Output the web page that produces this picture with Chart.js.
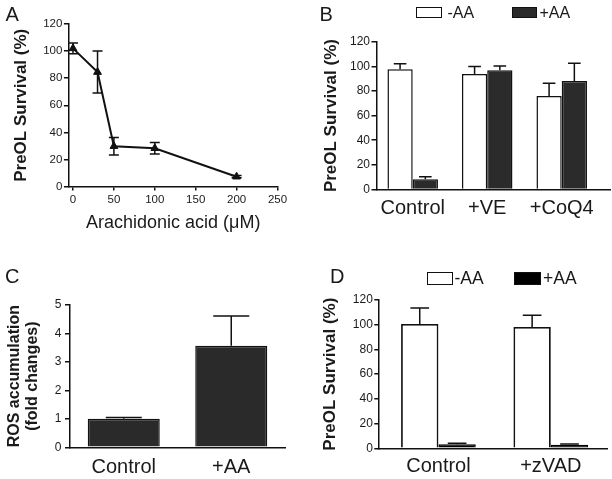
<!DOCTYPE html>
<html><head><meta charset="utf-8">
<script src="https://cdn.jsdelivr.net/npm/chart.js@4.4.1/dist/chart.umd.min.js"></script>
<style>
body{margin:0;background:#fff;}
#wrap{position:relative;width:612px;height:479px;overflow:hidden;background:#fff;font-family:'Liberation Sans',Arial,Helvetica,sans-serif;color:#1a1a1a;}
canvas{position:absolute;}
.lbl{position:absolute;white-space:nowrap;}
.box{position:absolute;box-sizing:border-box;border:1.5px solid #111;}
</style></head><body>
<div id="wrap">
<canvas id="cA" width="300" height="240" style="left:0;top:0"></canvas>
<canvas id="cB" width="312" height="230" style="left:300px;top:0"></canvas>
<canvas id="cC" width="300" height="239" style="left:0;top:240px"></canvas>
<canvas id="cD" width="312" height="249" style="left:300px;top:230px"></canvas>
</div>
<script>
// ---------- data ----------
// Panel A
const concA = [0, 30, 50, 100, 200];
const survA = [102, 84.5, 29.8, 28.3, 7.3];
const errA  = [4, 15.5, 6.5, 4.3, 0.8];
const xTicksA = [0, 50, 100, 150, 200, 250];
const yTicksPct = [0, 20, 40, 60, 80, 100, 120];
// Panel B
const catsB = ['Control', '+VE', '+CoQ4'];
const seriesB = ['-AA', '+AA'];
const minusAA_B = [97.6, 93.8, 76];
const minusAA_B_err = [4.4, 6, 10.2];
const plusAA_B = [8.4, 96.8, 88.1];
const plusAA_B_err = [2, 3.5, 14.4];
// Panel C
const catsC = ['Control', '+AA'];
const rosC = [1.0, 3.57];
const rosC_err = [0.05, 1.04];
const yTicksC = [0, 1, 2, 3, 4, 5];
// Panel D
const catsD = ['Control', '+zVAD'];
const seriesD = ['-AA', '+AA'];
const minusAA_D = [100.6, 98.1];
const minusAA_D_err = [12.9, 9.5];
const plusAA_D = [3.3, 2.8];
const plusAA_D_err = [0.8, 0.6];
// Panel letters
const panelLetters = ['A', 'B', 'C', 'D'];

// ---------- helpers ----------
const FAM = "'Liberation Sans', Arial, Helvetica, sans-serif";
Chart.defaults.font.family = FAM;
Chart.defaults.color = '#1a1a1a';
Chart.defaults.animation = false;
Chart.defaults.plugins.legend.display = false;
Chart.defaults.plugins.tooltip.enabled = false;

const INK = '#111';
const setTicks = arr => s => { s.ticks = arr.map(v => ({value: v})); };
const axisGrid = (len, show) => ({display: show, drawOnChartArea: false, drawTicks: show, tickLength: len, color: INK, lineWidth: 1.5});
const axisBorder = {display: true, color: INK, width: 1.5};

const errorBars = {
  id: 'errorBars',
  afterDatasetsDraw(chart) {
    const ctx = chart.ctx, yS = chart.scales.y;
    chart.data.datasets.forEach((ds, di) => {
      if (!ds.errors) return;
      const meta = chart.getDatasetMeta(di);
      ctx.save();
      ctx.strokeStyle = INK;
      ctx.lineWidth = 1.5;
      meta.data.forEach((el, i) => {
        const d = ds.data[i];
        const v = (typeof d === 'object') ? d.y : d;
        const e = ds.errors[i];
        const x = el.x;
        const hw = ds.capHalf != null ? ds.capHalf : el.width * 0.25;
        const yTop = yS.getPixelForValue(v + e);
        const yBase = ds.errorBoth ? yS.getPixelForValue(v - e) : yS.getPixelForValue(v);
        ctx.beginPath();
        ctx.moveTo(x, yBase); ctx.lineTo(x, yTop);
        ctx.moveTo(x - hw, yTop); ctx.lineTo(x + hw, yTop);
        if (ds.errorBoth) { ctx.moveTo(x - hw, yBase); ctx.lineTo(x + hw, yBase); }
        ctx.stroke();
      });
      ctx.restore();
    });
  }
};

// ---------- Panel A ----------
new Chart(document.getElementById('cA'), {
  type: 'line',
  data: { datasets: [{
    data: concA.map((x, i) => ({x: x, y: survA[i]})),
    errors: errA, errorBoth: true, capHalf: 5,
    borderColor: INK, borderWidth: 2, tension: 0, fill: false,
    pointStyle: 'triangle', pointRadius: 4.5, pointBackgroundColor: INK, pointBorderColor: INK, pointBorderWidth: 1
  }]},
  options: {
    responsive: false,
    layout: {padding: {left: 0, top: 24, right: 22.5, bottom: 8}},
    scales: {
      x: {type: 'linear', min: -5, max: 250, offset: false,
          afterBuildTicks: setTicks(xTicksA), afterFit: s => { s.height = 45.4; },
          grid: axisGrid(4, true), border: axisBorder,
          ticks: {font: {size: 11.5}, padding: 2, maxRotation: 0, autoSkip: false},
          title: {display: true, text: 'Arachidonic acid (\u03bcM)', font: {size: 18, lineHeight: 1}, padding: {top: 0, bottom: 0}}},
      y: {min: 0, max: 120,
          afterBuildTicks: setTicks(yTicksPct), afterFit: s => { s.width = 68.9; },
          grid: axisGrid(5, true), border: axisBorder,
          ticks: {font: {size: 11.5}, padding: 1.5},
          title: {display: true, text: 'PreOL Survival (%)', font: {size: 17, weight: 'bold', lineHeight: 1}, padding: {top: 13, bottom: 0}}}
    }
  },
  plugins: [errorBars]
});

// ---------- Panel B ----------
new Chart(document.getElementById('cB'), {
  type: 'bar',
  data: { datasets: [
    {label: seriesB[0], data: minusAA_B.map((v, i) => ({x: i + 1, y: v})), errors: minusAA_B_err,
     backgroundColor: '#ffffff', borderColor: INK, borderWidth: 1.5, categoryPercentage: 0.678, barPercentage: 1},
    {label: seriesB[1], data: plusAA_B.map((v, i) => ({x: i + 1, y: v})), errors: plusAA_B_err,
     backgroundColor: '#2b2b2b', borderColor: INK, borderWidth: 1.5, categoryPercentage: 0.678, barPercentage: 1}
  ]},
  options: {
    responsive: false,
    layout: {padding: {left: 0, top: 41.7, right: 2, bottom: 0}},
    scales: {
      x: {type: 'linear', min: 0.514, max: 3.648, offset: false,
          afterBuildTicks: setTicks(catsB.map((c, i) => i + 1)), afterFit: s => { s.height = 40.5; },
          grid: {display: false, drawTicks: false, offset: false}, border: axisBorder,
          ticks: {font: {size: 20}, padding: 7.2, maxRotation: 0, autoSkip: false,
                  callback: v => catsB[Math.round(v) - 1]}},
      y: {min: 0, max: 120,
          afterBuildTicks: setTicks(yTicksPct), afterFit: s => { s.width = 76.5; },
          grid: axisGrid(5, true), border: axisBorder,
          ticks: {font: {size: 12}, padding: 1.5},
          title: {display: true, text: 'PreOL Survival (%)', font: {size: 17, weight: 'bold', lineHeight: 1}, padding: {top: 23.2, bottom: 0}}}
    }
  },
  plugins: [errorBars]
});

// ---------- Panel C ----------
new Chart(document.getElementById('cC'), {
  type: 'bar',
  data: { labels: catsC, datasets: [
    {label: 'ROS', data: rosC, errors: rosC_err,
     backgroundColor: '#2a2a2a', borderColor: INK, borderWidth: 1.5, categoryPercentage: 1, barPercentage: 0.67}
  ]},
  options: {
    responsive: false,
    layout: {padding: {left: 0, top: 65, right: 15, bottom: 0}},
    scales: {
      x: {afterFit: s => { s.height = 31.7; },
          grid: {display: false, drawTicks: false}, border: axisBorder,
          ticks: {font: {size: 20}, padding: 8.2, maxRotation: 0, autoSkip: false}},
      y: {min: 0, max: 5,
          afterBuildTicks: setTicks(yTicksC), afterFit: s => { s.width = 70; },
          grid: axisGrid(5, true), border: axisBorder,
          ticks: {font: {size: 12}, padding: 3.5},
          title: {display: true, text: ['ROS accumulation', '(fold changes)'], font: {size: 16, weight: 'bold', lineHeight: 1.1}, padding: {top: 6.2, bottom: 0}}}
    }
  },
  plugins: [errorBars]
});

// ---------- Panel D ----------
new Chart(document.getElementById('cD'), {
  type: 'bar',
  data: { datasets: [
    {label: seriesD[0], data: minusAA_D.map((v, i) => ({x: i + 1, y: v})), errors: minusAA_D_err,
     backgroundColor: '#ffffff', borderColor: INK, borderWidth: 1.8, categoryPercentage: 0.665, barPercentage: 1},
    {label: seriesD[1], data: plusAA_D.map((v, i) => ({x: i + 1, y: v})), errors: plusAA_D_err,
     backgroundColor: '#000000', borderColor: '#000', borderWidth: 1.5, categoryPercentage: 0.665, barPercentage: 1}
  ]},
  options: {
    responsive: false,
    layout: {padding: {left: 0, top: 70, right: 5, bottom: 0}},
    scales: {
      x: {type: 'linear', min: 0.465, max: 2.5, offset: false,
          afterBuildTicks: setTicks(catsD.map((c, i) => i + 1)), afterFit: s => { s.height = 30.7; },
          grid: {display: false, drawTicks: false, offset: false}, border: axisBorder,
          ticks: {font: {size: 20}, padding: 6, maxRotation: 0, autoSkip: false,
                  callback: v => catsD[Math.round(v) - 1]}},
      y: {min: 0, max: 120,
          afterBuildTicks: setTicks(yTicksPct), afterFit: s => { s.width = 78.3; },
          grid: axisGrid(4, true), border: axisBorder,
          ticks: {font: {size: 12}, padding: 1.5},
          title: {display: true, text: 'PreOL Survival (%)', font: {size: 17, weight: 'bold', lineHeight: 1}, padding: {top: 21.5, bottom: 0}}}
    }
  },
  plugins: [errorBars]
});

// ---------- HTML legends and panel letters ----------
const wrap = document.getElementById('wrap');
function addText(txt, left, top, size) {
  const el = document.createElement('div');
  el.className = 'lbl';
  el.textContent = txt;
  el.style.left = left + 'px'; el.style.top = top + 'px';
  el.style.fontSize = size + 'px'; el.style.lineHeight = size + 'px';
  wrap.appendChild(el);
}
function addBox(left, top, w, h, fill) {
  const el = document.createElement('div');
  el.className = 'box';
  el.style.left = left + 'px'; el.style.top = top + 'px';
  el.style.width = w + 'px'; el.style.height = h + 'px';
  el.style.background = fill;
  wrap.appendChild(el);
}
// Legend B
addBox(415.5, 7.3, 26, 11, '#ffffff'); addText(seriesB[0], 447.5, 4.8, 16);
addBox(511.7, 7.3, 25, 11, '#2b2b2b'); addText(seriesB[1], 539.5, 4.8, 16);
// Legend D
addBox(426.7, 271.7, 26.6, 13.3, '#ffffff'); addText(seriesD[0], 454.5, 270.2, 17.5);
addBox(514.3, 271.7, 26.7, 13.3, '#000000'); addText(seriesD[1], 543, 270.2, 17.5);
// Panel letters
addText(panelLetters[0], 5.5, 3.8, 20);
addText(panelLetters[1], 319.5, 3.8, 20);
addText(panelLetters[2], 5, 266.4, 20);
addText(panelLetters[3], 330, 266.4, 20);
</script>
</body></html>
